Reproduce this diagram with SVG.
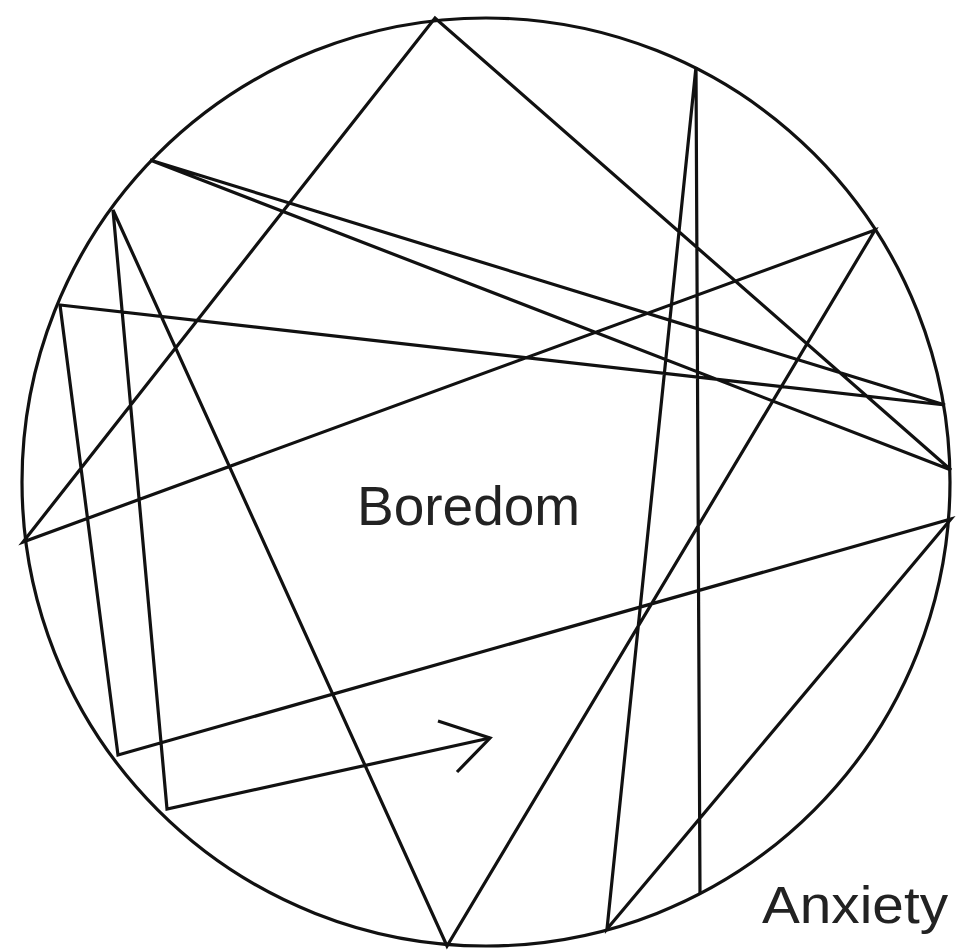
<svg xmlns="http://www.w3.org/2000/svg" width="957" height="952" viewBox="0 0 957 952">
<style>
.ln{fill:none;stroke:#111;stroke-width:3.2;stroke-linejoin:miter;stroke-linecap:butt}
.lbl{font-family:"Liberation Sans",Arial,sans-serif;fill:#222}
</style>
<rect width="957" height="952" fill="#fff"/>
<g id="boundary">
<circle class="ln" cx="486" cy="482" r="464"/>
</g>
<g id="connectors">
<polyline class="ln" points="700,893 696,67 607,929 951,519 118,755 60,305 945,405 150,160 951,470 435,18 23,542 875,230 447,946 113,210 167,809 490,738"/>
<polyline class="ln" points="438,721 490,738 457,772"/>
</g>
<g id="boredom">
<text class="lbl" x="357" y="525" font-size="55">Boredom</text>
</g>
<g id="anxiety">
<text class="lbl" x="762" y="923" font-size="51" textLength="186" lengthAdjust="spacingAndGlyphs">Anxiety</text>
</g>
</svg>
